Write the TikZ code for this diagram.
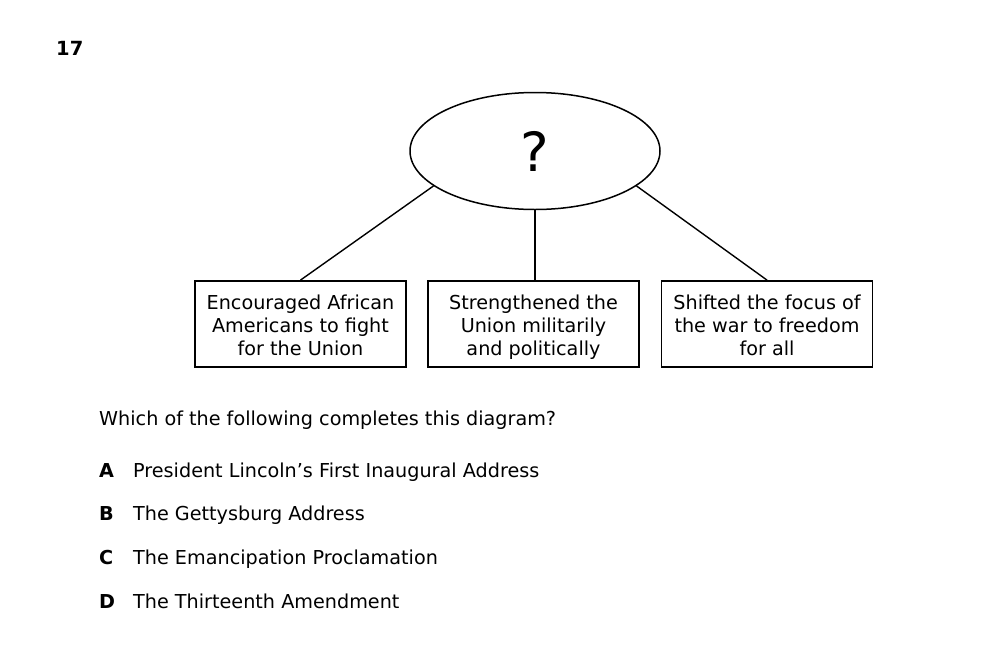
\documentclass[tikz,border=0pt]{standalone}
\usepackage{fontspec}
\setmainfont{DejaVu Sans}
\usetikzlibrary{shapes.geometric}

\tikzset{
    txt/.style={inner sep=0pt,font=\fontsize{19.2}{23}\selectfont},
    stmt/.style={draw,line width=1.8pt,minimum width=211,minimum height=86,inner sep=0pt,align=center,
        font=\fontsize{19.2}{23}\selectfont,
        execute at begin node={\rule{0pt}{67pt}},execute at end node={\rule[-5pt]{0pt}{0pt}}},
    link/.style={line width=1.4pt}
}

\begin{document}
\begin{tikzpicture}[x=1pt,y=-1pt]
        \useasboundingbox (0,0) rectangle (999,667);
        \node[txt,font=\fontsize{19.5}{23}\selectfont\bfseries,anchor=base west] (num) at (56,55) {17};
        \node[draw,ellipse,line width=1.5pt,minimum width=250,minimum height=117,inner sep=0pt,font=\fontsize{54}{60}\selectfont] (q) at (535,151) {?};
        \node[stmt] (fight) at (300.5,324) {Encouraged African\\Americans to fight\\for the Union};
        \node[stmt] (union) at (533.5,324) {Strengthened the\\Union militarily\\and politically};
        \node[stmt] (focus) at (767,324) {Shifted the focus of\\the war to freedom\\for all};
        \draw[link] (q.199) -- (fight.north);
        \draw[link] (q.south) -- (q.south |- union.north);
        \draw[link] (q.341) -- (focus.north);
        \node[txt,anchor=base west] (ask) at (99,425) {Which of the following completes this diagram?};
        \node[txt,font=\fontsize{19.2}{23}\selectfont\bfseries,anchor=base west] (la) at (99,477) {A};
        \node[txt,font=\fontsize{19.2}{23}\selectfont\bfseries,anchor=base west] (lb) at (99,520) {B};
        \node[txt,font=\fontsize{19.2}{23}\selectfont\bfseries,anchor=base west] (lc) at (99,564) {C};
        \node[txt,font=\fontsize{19.2}{23}\selectfont\bfseries,anchor=base west] (ld) at (99,608) {D};
        \node[txt,anchor=base west] (oa) at (133,477) {President Lincoln’s First Inaugural Address};
        \node[txt,anchor=base west] (ob) at (133,520) {The Gettysburg Address};
        \node[txt,anchor=base west] (oc) at (133,564) {The Emancipation Proclamation};
        \node[txt,anchor=base west] (od) at (133,608) {The Thirteenth Amendment};
    \end{tikzpicture}
\end{document}
